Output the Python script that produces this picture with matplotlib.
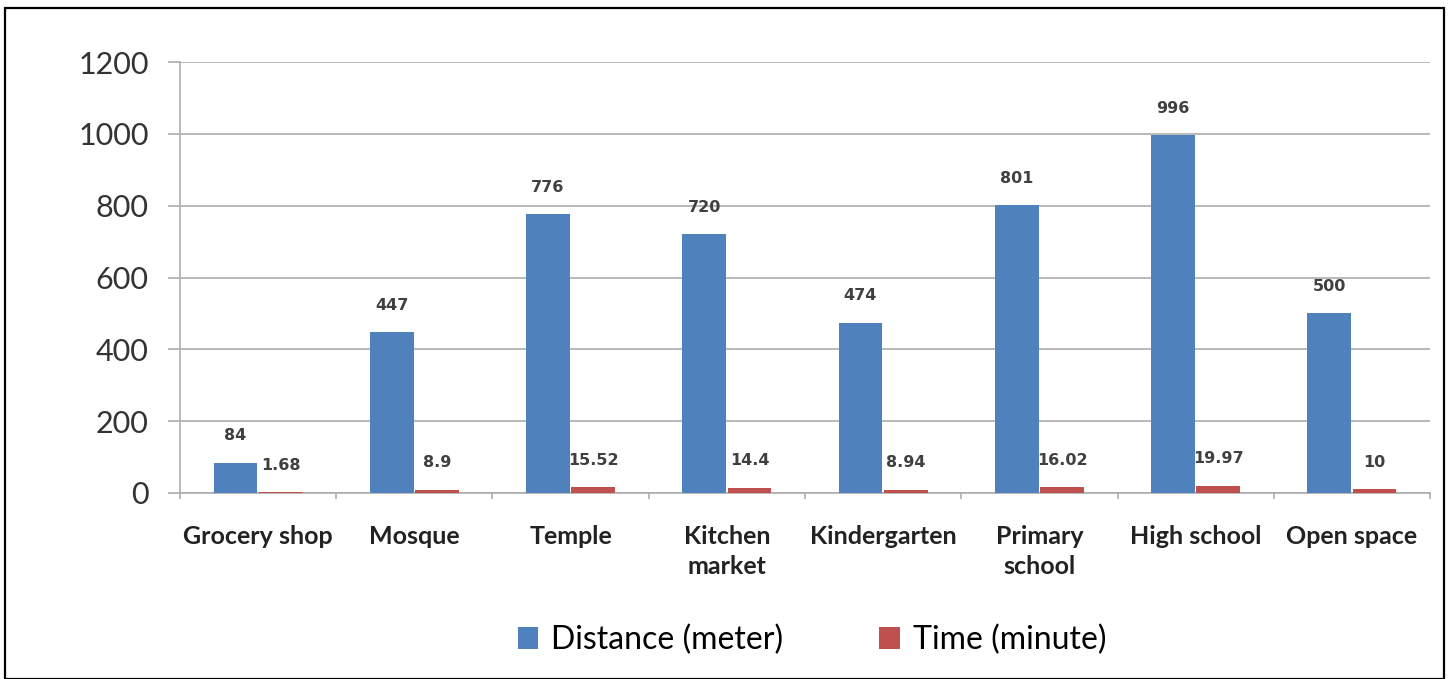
import matplotlib
matplotlib.use("Agg")
import matplotlib.pyplot as plt
from matplotlib.patches import Rectangle, Patch
import numpy as np

categories = ["Grocery shop", "Mosque", "Temple", "Kitchen\nmarket", "Kindergarten",
              "Primary\nschool", "High school", "Open space"]
distance = [84, 447, 776, 720, 474, 801, 996, 500]
time_min = [1.68, 8.9, 15.52, 14.4, 8.94, 16.02, 19.97, 10]
distance_labels = ["84", "447", "776", "720", "474", "801", "996", "500"]
time_labels = ["1.68", "8.9", "15.52", "14.4", "8.94", "16.02", "19.97", "10"]
yticks = [0, 200, 400, 600, 800, 1000, 1200]

BLUE = "#4F81BD"
RED = "#C0504D"
GRID = "#ADADAD"

W, H = 1451, 679
fig = plt.figure(figsize=(W / 100, H / 100), dpi=100)
fig.patch.set_facecolor("white")

# outer border
fig.patches.append(Rectangle((5 / W, 0.0), (1444 - 5) / W, 1 - 8 / H,
                             transform=fig.transFigure, fill=False,
                             edgecolor="black", linewidth=1.6, zorder=10))

ax = fig.add_axes([180 / W, 1 - 493 / H, (1430 - 180) / W, (493 - 62) / H])
x = np.arange(len(categories))
bw = 0.28
off = 0.145
ax.bar(x - off, distance, bw, color=BLUE, zorder=3, label="Distance (meter)")
ax.bar(x + off, time_min, bw, color=RED, zorder=3, label="Time (minute)")

lab_font = dict(fontfamily="DejaVu Sans", fontweight="bold", fontsize=11.5, color="#404040")
for xi, v, t in zip(x, distance, distance_labels):
    ax.annotate(t, (xi - off, v), xytext=(0, 27), textcoords="offset pixels",
                ha="center", va="center", **lab_font)
for xi, v, t in zip(x, time_min, time_labels):
    ax.annotate(t, (xi + off, v), xytext=(0, 27), textcoords="offset pixels",
                ha="center", va="center", **lab_font)

ax.set_xlim(-0.5, len(categories) - 0.5)
ax.set_ylim(0, 1200)
ax.set_yticks(yticks)
ax.set_yticklabels([str(v) for v in yticks], fontfamily="Lato", fontsize=22, color="#333333")
ax.yaxis.grid(True, color=GRID, linewidth=1.2, zorder=0)
ax.tick_params(axis="y", length=8.6, width=1.2, color=GRID, pad=14)

ax.set_xticks(x)
ax.set_xticklabels(categories, fontfamily="Lato", fontweight="bold", fontsize=18,
                   color="#222222", linespacing=1.35)
ax.set_xticks(np.arange(len(categories) + 1) - 0.5, minor=True)
ax.tick_params(axis="x", which="major", length=0, pad=23)
ax.tick_params(axis="x", which="minor", length=4.5, width=1.2, color=GRID)

for s in ["top", "right"]:
    ax.spines[s].set_visible(False)
for s in ["left", "bottom"]:
    ax.spines[s].set_color(GRID)
    ax.spines[s].set_linewidth(1.2)

handles = [Patch(facecolor=BLUE, label="Distance (meter)"),
           Patch(facecolor=RED, label="Time (minute)")]
fig.legend(handles=handles, loc="center", bbox_to_anchor=(812 / W, 1 - 640 / H),
           ncol=2, frameon=False, prop={"family": "Lato", "size": 23},
           handlelength=0.65, handleheight=0.65, handletextpad=0.4, columnspacing=3.0)

fig.savefig("out.png", dpi=100, facecolor="white")
